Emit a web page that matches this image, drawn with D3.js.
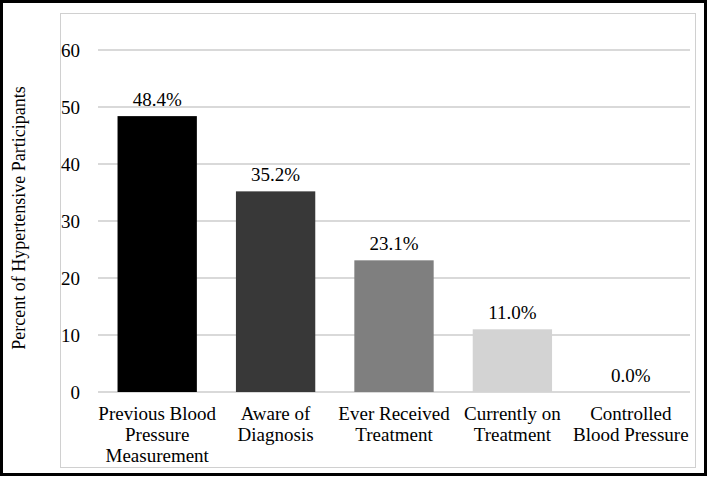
<!DOCTYPE html>
<html><head><meta charset="utf-8">
<script src="https://cdn.jsdelivr.net/npm/d3@7"></script>
<style>body{margin:0;background:#fff}svg{display:block}</style>
</head><body>
<script>
const categories = [["Previous Blood","Pressure","Measurement"],["Aware of","Diagnosis"],["Ever Received","Treatment"],["Currently on","Treatment"],["Controlled","Blood Pressure"]];
const values = [48.4, 35.2, 23.1, 11.0, 0.0];
const valueLabels = ["48.4%","35.2%","23.1%","11.0%","0.0%"];
const barColors = ["#000000","#383838","#7f7f7f","#d3d3d3","#d3d3d3"];
const yTicks = [0,10,20,30,40,50,60];
const yTitle = "Percent of Hypertensive Participants";

const FONT="Liberation Serif";
const W=709,H=479;
const svg=d3.select("body").append("svg").attr("width",W).attr("height",H).attr("font-family",FONT);
svg.append("rect").attr("x",1.5).attr("y",1.5).attr("width",W-5).attr("height",H-6).attr("fill","#fff").attr("stroke","#000").attr("stroke-width",3);
svg.append("rect").attr("x",60.5).attr("y",13.5).attr("width",635).attr("height",454).attr("fill","none").attr("stroke","#d0d0d0").attr("stroke-width",1);

const x=d3.scaleBand().domain(d3.range(categories.length)).range([98,690]).paddingInner(0.33).paddingOuter(0.165);
const y=d3.scaleLinear().domain([0,60]).range([392,50]);

const g=svg.append("g");
g.selectAll("line.grid").data(yTicks).join("line").attr("class","grid")
 .attr("x1",98).attr("x2",690).attr("y1",d=>y(d)).attr("y2",d=>y(d))
 .attr("stroke","#cccccc").attr("stroke-width",1.5);

const yAxis=svg.append("g").attr("transform","translate(98,0)").call(d3.axisLeft(y).tickValues(yTicks).tickSize(0).tickPadding(18));
yAxis.attr("font-family",FONT).attr("font-size",19);
yAxis.select(".domain").remove();
yAxis.selectAll("text").attr("fill","#000");

g.selectAll("rect.bar").data(values).join("rect").attr("class","bar")
 .attr("x",(d,i)=>x(i)).attr("width",x.bandwidth())
 .attr("y",d=>y(d)).attr("height",d=>y(0)-y(d)).attr("fill",(d,i)=>barColors[i]);

g.selectAll("text.val").data(values).join("text").attr("class","val")
 .attr("x",(d,i)=>x(i)+x.bandwidth()/2).attr("y",d=>y(d)-10)
 .attr("text-anchor","middle").attr("font-family",FONT).attr("font-size",19).attr("fill","#000").text((d,i)=>valueLabels[i]);

const xl=g.selectAll("text.cat").data(categories).join("text").attr("class","cat")
 .attr("text-anchor","middle").attr("font-family",FONT).attr("font-size",19).attr("fill","#000");
xl.each(function(lines,i){
  d3.select(this).selectAll("tspan").data(lines).join("tspan")
   .attr("x",x(i)+x.bandwidth()/2).attr("y",(l,j)=>420+j*21).text(l=>l);
});

svg.append("text").attr("transform","translate(25,218) rotate(-90)").attr("text-anchor","middle")
 .attr("font-family",FONT).attr("font-size",18).attr("fill","#000").text(yTitle);
</script>
</body></html>
